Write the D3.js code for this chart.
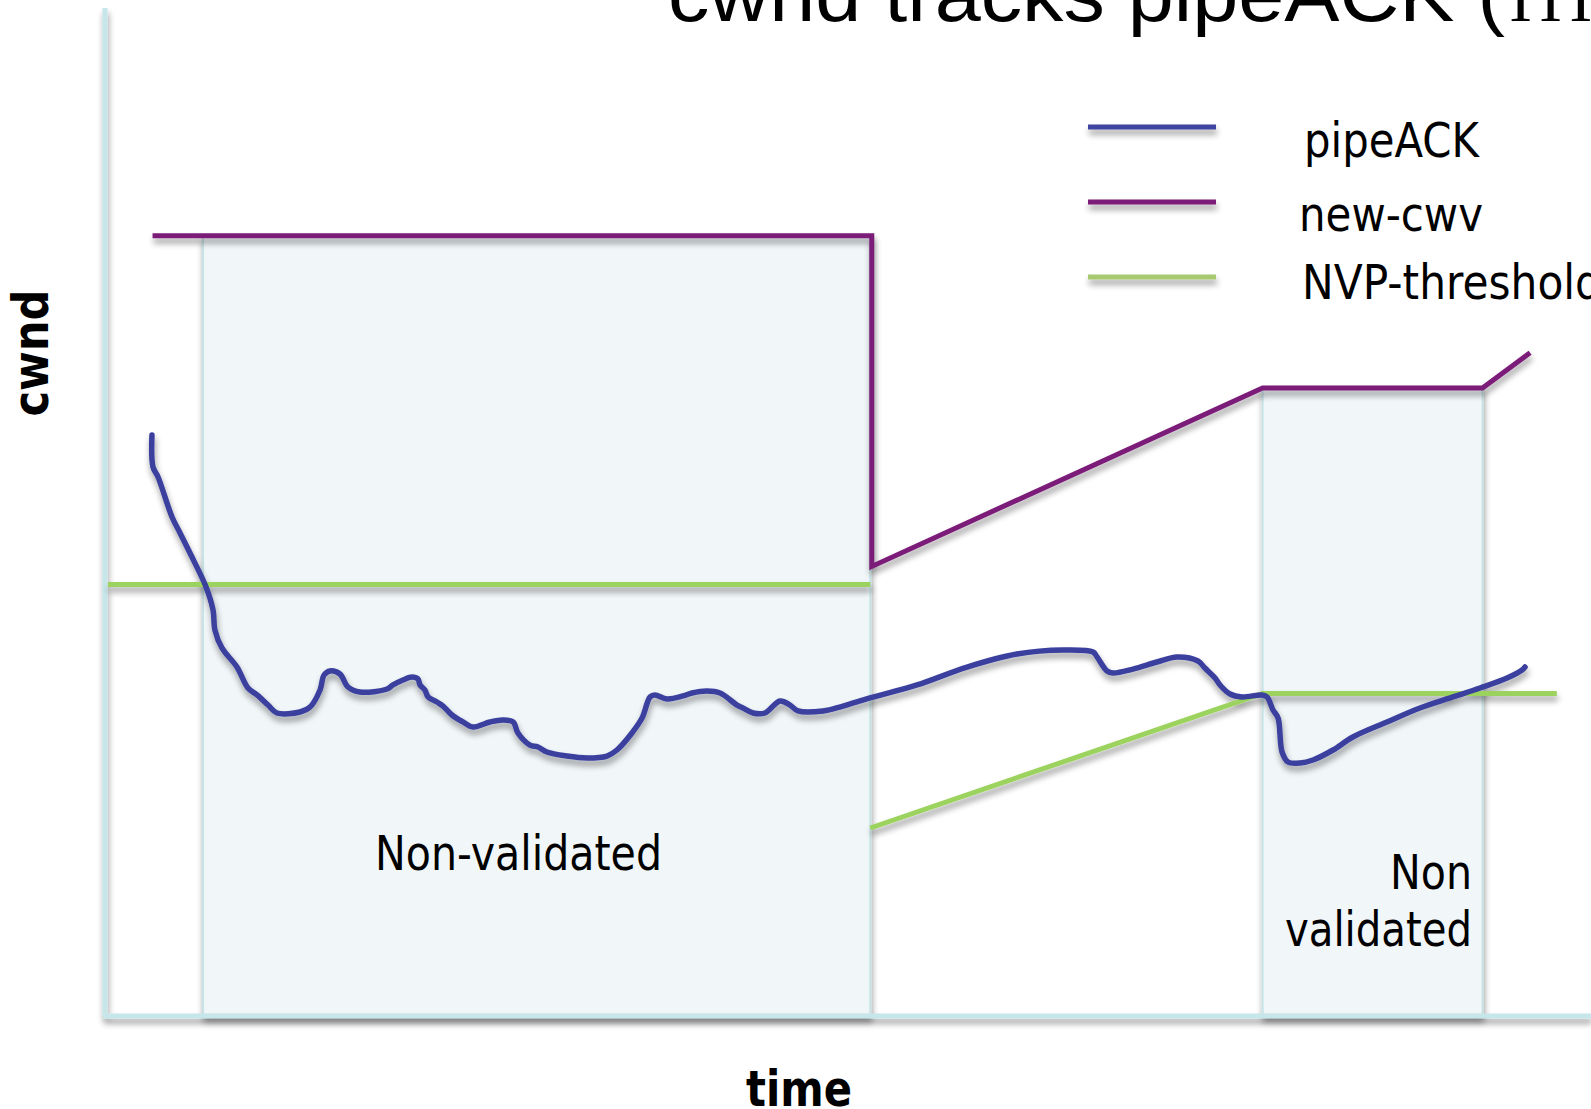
<!DOCTYPE html>
<html>
<head>
<meta charset="utf-8">
<script src="https://cdn.jsdelivr.net/npm/d3@7"></script>
<style>
  html, body { margin: 0; padding: 0; background: #ffffff; overflow: hidden; }
  svg { display: block; }
</style>
</head>
<body>
<div id="chart"></div>
<script>
// ---------------- data (time units 0..100, cwnd units 0..100) ----------------
const titleText = "cwnd tracks pipeACK (";
const titleTail = "iii)";
const xLabel = "time";
const yLabel = "cwnd";

const seriesNames = ["pipeACK", "new-cwv", "NVP-threshold"];
const seriesColors = ["#3a3f9e", "#7b1a79", "#9cd35e"];
const legendColors = ["#3c44a0", "#7d1a78", "#a8c96f"];

// new-cwv (purple)
const newCwv = [[3.2, 77.4], [51.6, 77.4], [51.6, 44.6], [77.9, 62.3], [92.7, 62.3], [95.9, 65.8]];

// NVP-threshold (green) – two pieces, null = gap
const nvpThreshold = [[0.2, 42.8], [51.5, 42.8], null, [51.5, 18.65], [77.9, 32.0], [97.7, 32.0]];

// pipeACK (blue)
const pipeAck = [
  [3.16, 57.64], [3.23, 54.46], [3.57, 53.47], [4.51, 49.50], [5.05, 47.92], [5.72, 45.93],
  [6.80, 42.56], [7.27, 40.28], [7.40, 38.29], [7.87, 36.51], [8.88, 34.62], [9.62, 32.54],
  [10.23, 31.85], [10.97, 30.85], [11.57, 30.06], [13.12, 30.16], [13.80, 30.65], [14.47, 32.34],
  [14.74, 33.83], [15.14, 34.23], [15.81, 33.93], [16.35, 32.64], [17.16, 32.14], [18.98, 32.44],
  [19.38, 32.84], [20.05, 33.33], [20.66, 33.63], [21.06, 33.43], [21.20, 32.84], [21.53, 32.34],
  [21.74, 31.65], [22.34, 31.15], [22.75, 30.75], [23.35, 29.86], [24.09, 29.17], [24.76, 28.67],
  [25.91, 29.17], [26.78, 29.37], [27.46, 29.17], [27.79, 28.08], [28.60, 26.88], [29.14, 26.69],
  [29.74, 26.19], [31.09, 25.79], [32.44, 25.60], [33.78, 25.79], [34.45, 26.39], [35.46, 28.08],
  [36.14, 29.56], [36.68, 31.65], [37.01, 31.85], [37.82, 31.45], [38.90, 31.75], [39.50, 32.04],
  [40.51, 32.24], [41.39, 32.04], [42.53, 30.85], [42.93, 30.56], [43.61, 30.06], [44.41, 30.06],
  [45.42, 31.25], [46.10, 30.85], [46.64, 30.26], [48.32, 30.26], [49.66, 30.75], [51.48, 31.55],
  [54.64, 32.84], [58.01, 34.62], [61.37, 35.91], [64.47, 36.31], [66.49, 36.11],
  [66.76, 35.62], [67.43, 34.23], [67.83, 34.03], [69.18, 34.42], [70.79, 35.12], [72.14, 35.62],
  [73.55, 35.22], [74.02, 34.52], [74.70, 33.53], [75.03, 32.84], [75.71, 31.94], [76.51, 31.65],
  [77.86, 31.85], [78.20, 31.65], [78.60, 30.36], [78.94, 29.56], [79.21, 26.19], [79.61, 25.20],
  [80.42, 25.10], [81.29, 25.40], [82.64, 26.39], [83.98, 27.68], [86.27, 29.17], [88.49, 30.56],
  [90.71, 31.65], [92.53, 32.54], [94.35, 33.53], [95.36, 34.33], [95.56, 34.62]
];

// non-validated periods
const periodStart = [6.6, 77.9];
const periodEnd = [51.5, 92.7];
const periodTop = [77.4, 62.3];
const periodLabels = [["Non-validated"], ["Non", "validated"]];

// ---------------- drawing ----------------
const W = 1591, H = 1109;
const x = d3.scaleLinear().domain([0, 100]).range([105, 1591]);
const y = d3.scaleLinear().domain([0, 100]).range([1016, 8]);

const svg = d3.select("#chart").append("svg")
  .attr("width", W).attr("height", H)
  .attr("viewBox", `0 0 ${W} ${H}`);

const defs = svg.append("defs");
const f = defs.append("filter").attr("id", "sh")
  .attr("filterUnits", "userSpaceOnUse")
  .attr("x", 0).attr("y", 0).attr("width", W).attr("height", H);
f.append("feGaussianBlur").attr("in", "SourceAlpha").attr("stdDeviation", 3).attr("result", "b");
f.append("feOffset").attr("in", "b").attr("dx", 1).attr("dy", 5).attr("result", "o");
f.append("feComponentTransfer").attr("in", "o").attr("result", "s")
  .append("feFuncA").attr("type", "linear").attr("slope", 0.4);
const fm = f.append("feMerge");
fm.append("feMergeNode").attr("in", "s");
fm.append("feMergeNode").attr("in", "SourceGraphic");

// title (clipped at the top, as in the reference)
svg.append("text")
  .attr("x", 668).attr("y", 21)
  .attr("font-family", "Liberation Sans, Arial, sans-serif")
  .attr("font-size", 76)
  .attr("textLength", 837).attr("lengthAdjust", "spacingAndGlyphs")
  .attr("fill", "#000")
  .text(titleText);
svg.append("text")
  .attr("x", 1510).attr("y", 21)
  .attr("font-family", "Liberation Serif, serif")
  .attr("font-size", 76)
  .attr("letter-spacing", 9)
  .attr("fill", "#000")
  .text(titleTail);

// non-validated regions
const periods = periodStart.map((s, i) => ({ s, e: periodEnd[i], top: periodTop[i], labels: periodLabels[i] }));
svg.append("g").attr("filter", "url(#sh)")
  .selectAll("rect").data(periods).join("rect")
  .attr("x", d => x(d.s))
  .attr("y", d => y(d.top))
  .attr("width", d => x(d.e) - x(d.s))
  .attr("height", d => y(0) - y(d.top))
  .attr("fill", "#f1f6f9")
  .attr("stroke", "#c6e3e6")
  .attr("stroke-width", 2);

// axes
const axisG = svg.append("g").attr("filter", "url(#sh)");
axisG.append("line")
  .attr("x1", x(0)).attr("x2", x(0))
  .attr("y1", y(100)).attr("y2", y(0))
  .attr("stroke", "#c7e6e9").attr("stroke-width", 5);
axisG.append("line")
  .attr("x1", x(0) - 2).attr("x2", x(100))
  .attr("y1", y(0)).attr("y2", y(0))
  .attr("stroke", "#c7e6e9").attr("stroke-width", 5);

// lines
const line = d3.line()
  .defined(d => d !== null)
  .x(d => x(d[0])).y(d => y(d[1]));

const linesG = svg.append("g").attr("filter", "url(#sh)").attr("fill", "none");
linesG.append("path").datum(newCwv)
  .attr("d", line)
  .attr("stroke", seriesColors[1]).attr("stroke-width", 5)
  .attr("stroke-linejoin", "miter");
linesG.append("path").datum(nvpThreshold)
  .attr("d", line)
  .attr("stroke", seriesColors[2]).attr("stroke-width", 5);
linesG.append("path").datum(pipeAck)
  .attr("d", d3.line().x(d => x(d[0])).y(d => y(d[1])).curve(d3.curveCatmullRom.alpha(0.5)))
  .attr("stroke", seriesColors[0]).attr("stroke-width", 5.5)
  .attr("stroke-linecap", "round").attr("stroke-linejoin", "round");

// region labels
const bodyFont = "DejaVu Sans, Verdana, sans-serif";
svg.append("text")
  .attr("x", 375).attr("y", 870)
  .attr("font-family", bodyFont).attr("font-size", 48)
  .attr("textLength", 287).attr("lengthAdjust", "spacingAndGlyphs")
  .text(periodLabels[0][0]);
svg.append("text")
  .attr("x", 1472).attr("y", 889)
  .attr("text-anchor", "end")
  .attr("font-family", bodyFont).attr("font-size", 48)
  .attr("textLength", 82).attr("lengthAdjust", "spacingAndGlyphs")
  .text(periodLabels[1][0]);
svg.append("text")
  .attr("x", 1472).attr("y", 946)
  .attr("text-anchor", "end")
  .attr("font-family", bodyFont).attr("font-size", 48)
  .attr("textLength", 187).attr("lengthAdjust", "spacingAndGlyphs")
  .text(periodLabels[1][1]);

// legend
const legendY = [127, 202, 277];
const legendTextY = [157, 231, 299];
const legendTextX = [1304, 1299, 1302];
const legendTextW = [175, 184, 300];
const lg = svg.append("g");
lg.append("g").attr("filter", "url(#sh)")
  .selectAll("line").data(seriesNames).join("line")
  .attr("x1", 1088).attr("x2", 1216)
  .attr("y1", (d, i) => legendY[i]).attr("y2", (d, i) => legendY[i])
  .attr("stroke", (d, i) => legendColors[i]).attr("stroke-width", 5);
lg.selectAll("text").data(seriesNames).join("text")
  .attr("x", (d, i) => legendTextX[i]).attr("y", (d, i) => legendTextY[i])
  .attr("font-family", bodyFont).attr("font-size", 48)
  .attr("textLength", (d, i) => legendTextW[i]).attr("lengthAdjust", "spacingAndGlyphs")
  .text(d => d);

// axis labels
svg.append("text")
  .attr("x", 746).attr("y", 1106)
  .attr("font-family", "DejaVu Sans, Verdana, sans-serif").attr("font-weight", "bold")
  .attr("font-size", 50)
  .attr("textLength", 106).attr("lengthAdjust", "spacingAndGlyphs")
  .text(xLabel);
svg.append("text")
  .attr("transform", "translate(48,353) rotate(-90)")
  .attr("text-anchor", "middle")
  .attr("font-family", "DejaVu Sans, Verdana, sans-serif").attr("font-weight", "bold")
  .attr("font-size", 50)
  .attr("textLength", 127).attr("lengthAdjust", "spacingAndGlyphs")
  .text(yLabel);
</script>
</body>
</html>
